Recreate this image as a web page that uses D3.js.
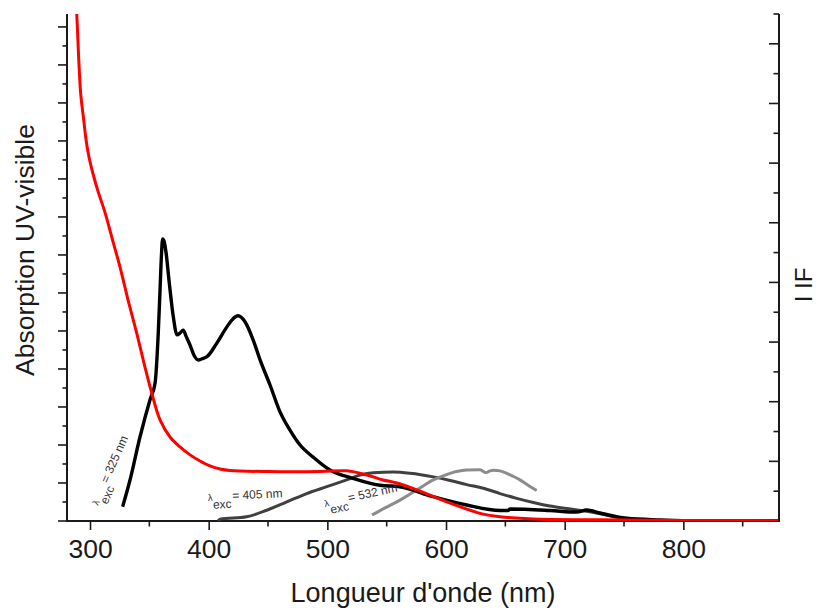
<!DOCTYPE html>
<html><head><meta charset="utf-8">
<script src="https://cdn.jsdelivr.net/npm/d3@7/dist/d3.min.js"></script>
<style>html,body{margin:0;padding:0;background:#fff;}svg{display:block;font-family:"Liberation Sans",Arial,sans-serif;}</style>
</head><body>
<svg id="chart" width="816" height="609"></svg>
<script>
// ---- data ----
const xTickValues = [300, 400, 500, 600, 700, 800];
const absWavelength = [287.5, 288.8, 292, 294.5, 296.8, 299.3, 302.4, 306.7, 312.6, 318.5, 325.3, 332, 339.3, 346.3, 352, 359, 367.4, 375.8, 384.3, 392.7, 401.1, 409.5, 418, 450, 493.8, 516.3, 533.2, 546.9, 558.5, 575.3, 603.4, 631.2, 645.5, 673.3, 729.8, 800, 880];
const absValue      = [1.40, 1.334, 1.13, 1.06, 1.0, 0.955, 0.915, 0.868, 0.812, 0.745, 0.668, 0.582, 0.495, 0.405, 0.337, 0.266, 0.221, 0.195, 0.174, 0.158, 0.145, 0.137, 0.133, 0.13, 0.13, 0.132, 0.121, 0.108, 0.1, 0.082, 0.047, 0.018, 0.011, 0.005, 0.003, 0.001, 0.0];

const em325Wavelength = [327.5, 333.7, 342.1, 350.5, 354.8, 357.5, 359, 360.2, 361.2, 362.4, 364, 366.8, 370.2, 373.3, 375.8, 378.6, 380.9, 384.3, 387.6, 391.3, 394.4, 398.3, 406.8, 415.2, 419.7, 422.2, 424.7, 430.6, 437.6, 443.3, 451.7, 460.1, 468.5, 477, 487.9, 502.2, 521.6, 544.4, 561.2, 589, 617.4, 645.5, 652.2, 653.9, 687.6, 710.1, 718.6, 729.8, 741, 752.3, 780.4, 814, 880];
const em325Value      = [0.24, 0.687, 1.408, 2.03, 2.31, 3.15, 3.87, 4.46, 4.73, 4.69, 4.51, 3.99, 3.42, 3.12, 3.15, 3.2, 3.1, 2.95, 2.78, 2.70, 2.72, 2.75, 2.98, 3.25, 3.37, 3.42, 3.44, 3.34, 3.03, 2.70, 2.28, 1.83, 1.525, 1.274, 1.073, 0.855, 0.716, 0.6, 0.575, 0.407, 0.268, 0.176, 0.176, 0.20, 0.176, 0.15, 0.184, 0.134, 0.084, 0.045, 0.017, 0.0, 0.0];

const em405Wavelength = [407.9, 409.5, 432, 448.9, 465.8, 482.6, 499.5, 516.3, 527.5, 538.7, 555.6, 569.7, 589.3, 603.4, 617.4, 631.4, 645.5, 659.6, 673.6, 687.6, 701.7, 715.7, 729.8, 746.6, 771.9, 797];
const em405Value      = [0, 0.03, 0.07, 0.18, 0.32, 0.46, 0.575, 0.69, 0.77, 0.81, 0.82, 0.80, 0.74, 0.68, 0.61, 0.55, 0.46, 0.38, 0.31, 0.25, 0.21, 0.17, 0.12, 0.05, 0.01, 0];

const em532Wavelength = [537.6, 548.6, 561.2, 575.3, 589.3, 599.2, 609, 617.4, 628.7, 633.7, 637.1, 639.9, 645.5, 651.2, 656.5, 662.3, 669.1, 676.4];
const em532Value      = [0.10, 0.22, 0.35, 0.52, 0.69, 0.77, 0.83, 0.855, 0.86, 0.81, 0.84, 0.85, 0.84, 0.80, 0.75, 0.69, 0.60, 0.51];

const annotText = ["325 nm", "405 nm", "532 nm"];
const annotWavelength = [306.7, 399.4, 498.0];
const annotValue = [0.25, 0.335, 0.235];
const annotAngle = [-66, -3, -12];

// ---- layout ----
const svg = d3.select("#chart");
const L = 67, R = 779, T = 14, B = 521;
const x = d3.scaleLinear().domain([280.6, 880.6]).range([L, R]);
const yL = d3.scaleLinear().domain([0, 1.334]).range([B, T]);
const yR = d3.scaleLinear().domain([0, 8.5]).range([B, T]);

svg.append("defs").append("clipPath").attr("id", "clip")
  .append("rect").attr("x", L).attr("y", T).attr("width", R - L).attr("height", B - T);

const axisColor = "#1a1a1a";

// x axis
const xMinor = d3.range(300, 881, 50).filter(v => v % 100 !== 0);
const gx = svg.append("g").attr("transform", `translate(0,${B})`);
gx.call(d3.axisBottom(x).tickValues(xTickValues).tickSize(9).tickPadding(9).tickFormat(d3.format("d")))
  .call(g => g.select(".domain").remove());
gx.selectAll(".tick line").attr("stroke", axisColor).attr("stroke-width", 1.6);
gx.selectAll(".tick text").attr("font-size", 26.5).attr("fill", "#1a1a1a").attr("font-family", "Liberation Sans, Arial, sans-serif");
gx.selectAll(".minor").data(xMinor).enter().append("line")
  .attr("x1", d => x(d)).attr("x2", d => x(d)).attr("y1", 0).attr("y2", 5.5)
  .attr("stroke", axisColor).attr("stroke-width", 1.6);

// left axis
const leftTicks = d3.range(0, 27).map(i => i * 0.05);
const gl = svg.append("g").attr("transform", `translate(${L},0)`);
gl.selectAll("line").data(leftTicks).enter().append("line")
  .attr("x1", (d, i) => i % 2 === 0 ? -9 : -4.5).attr("x2", 0)
  .attr("y1", d => yL(d)).attr("y2", d => yL(d))
  .attr("stroke", axisColor).attr("stroke-width", 1.6);

// right axis
const rightTicks = d3.range(0, 18).map(i => i * 0.5);
const gr = svg.append("g").attr("transform", `translate(${R},0)`);
gr.selectAll("line").data(rightTicks).enter().append("line")
  .attr("x1", (d, i) => i % 2 === 0 ? -10 : -5.5).attr("x2", 0)
  .attr("y1", d => yR(d)).attr("y2", d => yR(d))
  .attr("stroke", axisColor).attr("stroke-width", 1.6);

// frame lines (left, bottom, right)
svg.append("path")
  .attr("d", `M${L},${T}V${B}H${R}V${T}`)
  .attr("fill", "none").attr("stroke", axisColor).attr("stroke-width", 2);

// ---- curves ----
const lineL = d3.line().x(d => x(d[0])).y(d => yL(d[1])).curve(d3.curveCatmullRom.alpha(0.5));
const lineR = d3.line().x(d => x(d[0])).y(d => yR(d[1])).curve(d3.curveMonotoneX);
const zip = (a, b) => a.map((v, i) => [v, b[i]]);
const plot = svg.append("g").attr("clip-path", "url(#clip)");

plot.append("path").datum(zip(em405Wavelength, em405Value)).attr("d", lineR)
  .attr("fill", "none").attr("stroke", "#404040").attr("stroke-width", 3);
plot.append("path").datum(zip(em532Wavelength, em532Value)).attr("d", lineR)
  .attr("fill", "none").attr("stroke", "#8c8c8c").attr("stroke-width", 3);
plot.append("path").datum(zip(em325Wavelength, em325Value)).attr("d", lineR)
  .attr("fill", "none").attr("stroke", "#000").attr("stroke-width", 3.4).attr("stroke-linejoin", "round");
plot.append("path").datum(zip(absWavelength, absValue)).attr("d", lineL)
  .attr("fill", "none").attr("stroke", "#ff0000").attr("stroke-width", 3);

// ---- annotations ----
annotText.forEach((t, i) => {
  const tx = svg.append("text")
    .attr("transform", `translate(${x(annotWavelength[i])},${yR(annotValue[i])}) rotate(${annotAngle[i]})`)
    .attr("fill", "#333").attr("font-size", 12);
  tx.append("tspan").attr("font-size", 9.5).text("λ");
  tx.append("tspan").attr("font-size", 12).attr("dy", 8).text("exc");
  tx.append("tspan").attr("font-size", 12).attr("dy", -8).attr("dx", 1).text("= " + t);
});

// ---- titles ----
svg.append("text").attr("x", (L + R) / 2).attr("y", 602)
  .attr("text-anchor", "middle").attr("font-size", 27).attr("fill", "#1a1a1a")
  .text("Longueur d'onde (nm)");
svg.append("text").attr("transform", `translate(34,250) rotate(-90)`)
  .attr("text-anchor", "middle").attr("font-size", 26.5).attr("fill", "#1a1a1a")
  .text("Absorption UV-visible");
svg.append("text").attr("transform", `translate(812,285) rotate(-90)`)
  .attr("text-anchor", "middle").attr("font-size", 24).attr("fill", "#1a1a1a")
  .text("I IF");
</script>
</body></html>
